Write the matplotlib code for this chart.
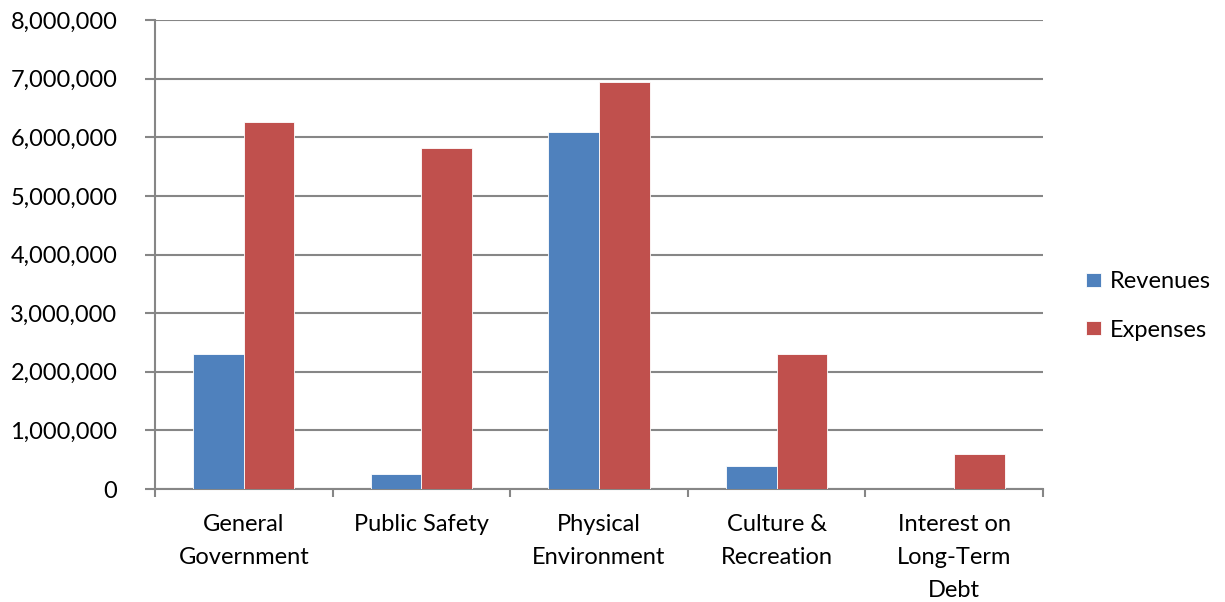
import matplotlib
matplotlib.use("Agg")
import matplotlib.pyplot as plt
import numpy as np
from matplotlib.ticker import FuncFormatter, FixedLocator

categories = ["General\nGovernment", "Public Safety", "Physical\nEnvironment",
              "Culture &\nRecreation", "Interest on\nLong-Term\nDebt"]
revenues = [2300000, 250000, 6090000, 385000, 0]
expenses = [6260000, 5820000, 6950000, 2300000, 590000]
series_names = ["Revenues", "Expenses"]
colors = ["#4F81BD", "#C0504D"]

plt.rcParams['font.family'] = ['Lato', 'DejaVu Sans']

fig = plt.figure(figsize=(12.25, 6.02), dpi=100)
ax = fig.add_axes([155/1225, 1-489/602, (1043-155)/1225, (489-20)/602])

x = np.arange(len(categories))
w = 0.285
ax.bar(x - w/2, revenues, w, color=colors[0], edgecolor="white", linewidth=0.6, label=series_names[0], zorder=3)
ax.bar(x + w/2, expenses, w, color=colors[1], edgecolor="white", linewidth=0.6, label=series_names[1], zorder=3)

ax.set_xlim(-0.5, len(categories) - 0.5)
ax.set_ylim(0, 8000000)
ax.set_yticks(np.arange(0, 8000001, 1000000))
ax.yaxis.set_major_formatter(FuncFormatter(lambda v, p: f"{int(v):,}"))
ax.grid(axis="y", color="#868686", linewidth=1.5, zorder=0)

ax.set_xticks(x)
ax.set_xticklabels(categories, fontsize=17, linespacing=1.7)
ax.tick_params(axis="x", length=0, pad=18)
ax.xaxis.set_minor_locator(FixedLocator(np.arange(-0.5, len(categories), 1.0)))
ax.tick_params(axis="x", which="minor", length=6, width=1.5, color="#868686", direction="out")
ax.tick_params(axis="y", length=7, width=1.5, color="#868686", direction="out", labelsize=17, pad=20)

for s in ["top", "right"]:
    ax.spines[s].set_visible(False)
for s in ["left", "bottom"]:
    ax.spines[s].set_color("#868686")
    ax.spines[s].set_linewidth(1.5)

fig.legend(loc="center left", bbox_to_anchor=(1065/1225, 1-306/602), frameon=False,
           fontsize=17, handlelength=0.64, handleheight=0.55, labelspacing=1.15, handletextpad=0.38)

fig.savefig("out.png", dpi=100, facecolor="white")
